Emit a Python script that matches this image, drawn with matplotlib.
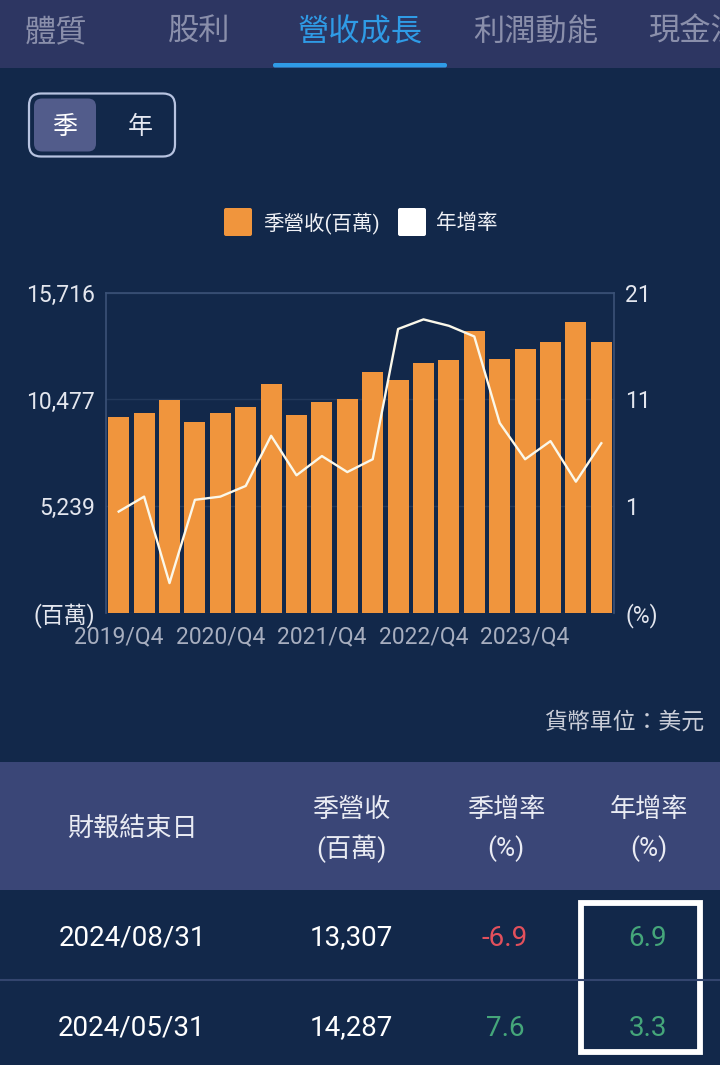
import matplotlib
matplotlib.use("Agg")
import matplotlib.pyplot as plt
from matplotlib.patches import Rectangle, FancyBboxPatch

plt.rcParams['font.family'] = ['Roboto', 'Noto Sans CJK TC', 'DejaVu Sans']

# ---------------- data ----------------
quarters = ['2019/Q4', '2020/Q1', '2020/Q2', '2020/Q3', '2020/Q4', '2021/Q1', '2021/Q2',
            '2021/Q3', '2021/Q4', '2022/Q1', '2022/Q2', '2022/Q3', '2022/Q4', '2023/Q1',
            '2023/Q2', '2023/Q3', '2023/Q4', '2024/Q1', '2024/Q2', '2024/Q3']
revenue = [9614, 9797, 10440, 9367, 9800, 10085, 11230, 9728, 10360, 10513,
           11839, 11445, 12275, 12398, 13837, 12453, 12941, 13280, 14287, 13307]
yoy = [0.5, 1.9, -6.2, 1.6, 1.9, 2.9, 7.6, 3.9, 5.7, 4.2,
       5.4, 17.6, 18.5, 17.9, 16.9, 8.8, 5.4, 7.1, 3.3, 6.9]

left_ticks = [0, 5239, 10477, 15716]
left_labels = ['(百萬)', '5,239', '10,477', '15,716']
right_ticks = [-9, 1, 11, 21]
right_labels = ['(%)', '1', '11', '21']
xtick_idx = [0, 4, 8, 12, 16]

tabs = ['體質', '股利', '營收成長', '利潤動能', '現金流']
tab_x = [56, 199, 360, 536, 648]
active_tab = 2

table_dates = ['2024/08/31', '2024/05/31']
table_rev = ['13,307', '14,287']
table_qoq = [-6.9, 7.6]
table_yoy = [6.9, 3.3]

# ---------------- colors ----------------
BG = '#12284a'
TAB_BG = '#2d3662'
HEAD_BG = '#3a4677'
ORANGE = '#f0953d'
GREEN = '#45a67a'
RED = '#e2505c'
FRAME = '#3b5277'
GRID = '#23395b'

W, H = 720, 1065
fig = plt.figure(figsize=(W / 100, H / 100), dpi=100)
fig.patch.set_facecolor(BG)

bg = fig.add_axes([0, 0, 1, 1])
bg.set_xlim(0, W)
bg.set_ylim(H, 0)
bg.axis('off')
bg.set_zorder(0)

# tab bar
bg.add_patch(Rectangle((0, 0), W, 68, color=TAB_BG, lw=0))
for i, (t, x) in enumerate(zip(tabs, tab_x)):
    col = '#2f9be6' if i == active_tab else '#8a8fab'
    ha = 'left' if i == len(tabs) - 1 else 'center'
    bg.text(x, 32, t, fontsize=22.5, color=col, ha=ha, va='center',
            family=['Noto Sans CJK TC'], clip_on=True)
bg.add_patch(FancyBboxPatch((273, 63), 174, 4.5, boxstyle='round,pad=0,rounding_size=2',
                            color='#2f9be6', lw=0))

# toggle
bg.add_patch(FancyBboxPatch((29, 93.5), 146, 63, boxstyle='round,pad=0,rounding_size=12',
                            facecolor='none', edgecolor='#b7c3e0', lw=1.6))
bg.add_patch(FancyBboxPatch((34, 98.5), 62, 53, boxstyle='round,pad=0,rounding_size=8',
                            facecolor='#525c8b', edgecolor='none'))
bg.text(65, 127, '季', fontsize=18, color='white', ha='center', va='center',
        family=['Noto Sans CJK TC'])
bg.text(140, 127, '年', fontsize=18, color='#e6e9f2', ha='center', va='center',
        family=['Noto Sans CJK TC'])

# legend
bg.add_patch(FancyBboxPatch((224, 208), 28, 28, boxstyle='round,pad=0,rounding_size=2',
                            color=ORANGE, lw=0))
bg.text(263, 223, '季營收(百萬)', fontsize=14.8, color='#eef0f5', ha='left', va='center')
bg.add_patch(FancyBboxPatch((398, 208), 28, 28, boxstyle='round,pad=0,rounding_size=2',
                            color='white', lw=0))
bg.text(436, 223, '年增率', fontsize=14.8, color='#eef0f5', ha='left', va='center')

# currency note
bg.text(704, 722, '貨幣單位：美元', fontsize=16.5, color='#c9cdd8', ha='right', va='center')

# table header
bg.add_patch(Rectangle((0, 762), W, 128, color=HEAD_BG, lw=0))
hc = '#e9ebf3'
bg.text(132, 829, '財報結束日', fontsize=18.8, color=hc, ha='center', va='center')
bg.text(351, 810, '季營收', fontsize=18.8, color=hc, ha='center', va='center')
bg.text(351, 849, '(百萬)', fontsize=18.8, color=hc, ha='center', va='center')
bg.text(506, 810, '季增率', fontsize=18.8, color=hc, ha='center', va='center')
bg.text(506, 849, '(%)', fontsize=18.8, color=hc, ha='center', va='center')
bg.text(649, 810, '年增率', fontsize=18.8, color=hc, ha='center', va='center')
bg.text(649, 849, '(%)', fontsize=18.8, color=hc, ha='center', va='center')

row_y = [938, 1028]
bg.plot([0, W], [980, 980], color='#33456e', lw=1.5)
for i in range(len(table_dates)):
    y = row_y[i]
    bg.text(132, y, table_dates[i], fontsize=20, color='white', ha='center', va='center')
    bg.text(351, y, table_rev[i], fontsize=20, color='white', ha='center', va='center')
    q = table_qoq[i]
    bg.text(505, y, f'{q:.1f}', fontsize=20, color=RED if q < 0 else GREEN,
            ha='center', va='center')
    v = table_yoy[i]
    bg.text(648, y, f'{v:.1f}', fontsize=20, color=RED if v < 0 else GREEN,
            ha='center', va='center')
bg.add_patch(Rectangle((581, 903), 119, 149, facecolor='none', edgecolor='white', lw=4.2))

# ---------------- chart ----------------
L, R, T, B = 106, 614, 292.7, 613
ax = fig.add_axes([L / W, 1 - B / H, (R - L) / W, (B - T) / H])
ax.set_zorder(2)
ax.set_facecolor('none')
x = list(range(len(revenue)))
ax.bar(x, revenue, width=0.83, color=ORANGE, zorder=2)
ax.set_xlim(-0.5, len(revenue) - 0.5)
ax.set_ylim(left_ticks[0], left_ticks[-1])
ax.set_yticks(left_ticks)
ax.set_yticklabels(left_labels)
ax.set_xticks(xtick_idx)
ax.set_xticklabels([quarters[i] for i in xtick_idx])
ax.tick_params(axis='y', length=0, pad=8, labelsize=16.5, labelcolor='#e3e6ee')
ax.tick_params(axis='x', length=0, pad=9, labelsize=16.5, labelcolor='#a7aebf')
ax.grid(axis='y', color=GRID, lw=1, zorder=0)
for s in ['left', 'right', 'top']:
    ax.spines[s].set_color(FRAME)
    ax.spines[s].set_linewidth(1.2)
ax.spines['bottom'].set_visible(False)

ax2 = ax.twinx()
ax2.plot(x, yoy, color='#fbf8ea', lw=1.7, zorder=3)
ax2.set_ylim(right_ticks[0], right_ticks[-1])
ax2.set_yticks(right_ticks)
ax2.set_yticklabels(right_labels)
ax2.tick_params(axis='y', length=0, pad=8, labelsize=16.5, labelcolor='#e3e6ee')
for s in ['left', 'right', 'top', 'bottom']:
    ax2.spines[s].set_visible(False)

fig.savefig('out.png', dpi=100, facecolor=BG)
